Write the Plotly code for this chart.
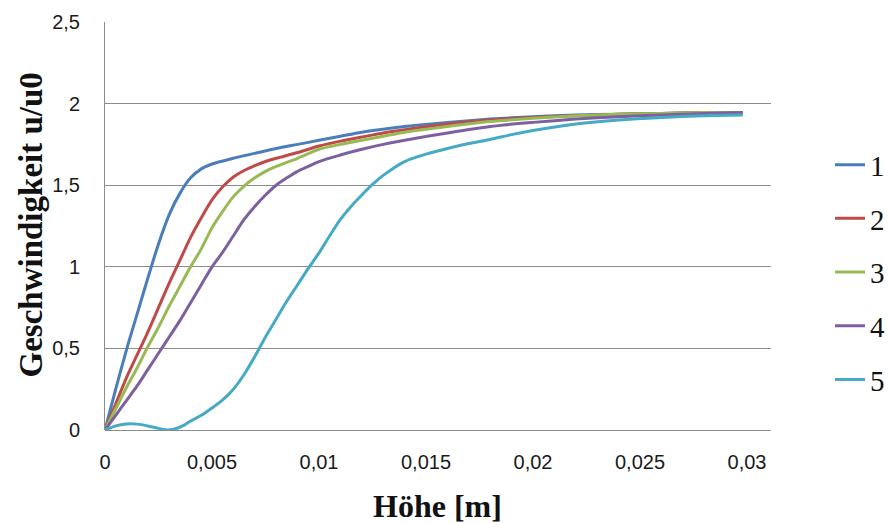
import plotly.graph_objects as go

# ---- data ----
series_names = ["1", "2", "3", "4", "5"]

x1 = [0, 0.0005, 0.001, 0.0015, 0.002, 0.0025, 0.003, 0.0035, 0.004, 0.0045, 0.005, 0.006, 0.007,
      0.008, 0.009, 0.01, 0.011, 0.012, 0.014, 0.016, 0.018, 0.02, 0.022, 0.024, 0.026, 0.028, 0.0298]
y1 = [0, 0.25, 0.49, 0.71, 0.93, 1.14, 1.32, 1.45, 1.545, 1.60, 1.63, 1.665, 1.695,
      1.725, 1.75, 1.775, 1.80, 1.825, 1.86, 1.885, 1.905, 1.92, 1.93, 1.935, 1.94, 1.945, 1.945]

x2 = [0, 0.0005, 0.001, 0.0015, 0.002, 0.0025, 0.003, 0.0035, 0.004, 0.0045, 0.005, 0.0055, 0.006,
      0.0065, 0.007, 0.0075, 0.008, 0.009, 0.01, 0.011, 0.012, 0.013, 0.014, 0.016, 0.018, 0.02,
      0.022, 0.024, 0.026, 0.028, 0.0298]
y2 = [0, 0.16, 0.32, 0.46, 0.60, 0.75, 0.90, 1.04, 1.18, 1.30, 1.41, 1.49, 1.55,
      1.59, 1.62, 1.645, 1.665, 1.70, 1.74, 1.77, 1.795, 1.82, 1.84, 1.875, 1.90, 1.915,
      1.925, 1.935, 1.94, 1.945, 1.945]

x3 = [0, 0.0005, 0.001, 0.0015, 0.002, 0.0025, 0.003, 0.0035, 0.004, 0.0045, 0.005, 0.0055, 0.006,
      0.0065, 0.007, 0.0075, 0.008, 0.009, 0.01, 0.011, 0.012, 0.013, 0.014, 0.016, 0.018, 0.02,
      0.022, 0.024, 0.026, 0.028, 0.0298]
y3 = [0, 0.13, 0.26, 0.38, 0.51, 0.63, 0.76, 0.88, 1.0, 1.11, 1.24, 1.34, 1.43,
      1.495, 1.545, 1.585, 1.615, 1.665, 1.72, 1.75, 1.775, 1.80, 1.825, 1.86, 1.89, 1.91,
      1.925, 1.935, 1.94, 1.945, 1.945]

x4 = [0, 0.0005, 0.001, 0.0015, 0.002, 0.0025, 0.003, 0.0035, 0.004, 0.0045, 0.005, 0.0055, 0.006,
      0.0065, 0.007, 0.0075, 0.008, 0.0085, 0.009, 0.0095, 0.01, 0.011, 0.012, 0.013, 0.014,
      0.016, 0.018, 0.02, 0.022, 0.024, 0.026, 0.028, 0.0298]
y4 = [0, 0.09, 0.18, 0.27, 0.37, 0.47, 0.57, 0.67, 0.78, 0.89, 1.0, 1.09, 1.19,
      1.29, 1.37, 1.44, 1.50, 1.545, 1.585, 1.615, 1.645, 1.685, 1.72, 1.75, 1.775,
      1.82, 1.86, 1.885, 1.905, 1.92, 1.93, 1.94, 1.945]

x5 = [0, 0.0005, 0.001, 0.0015, 0.002, 0.0025, 0.0029, 0.0033, 0.0037, 0.004, 0.0045, 0.005, 0.0055,
      0.006, 0.0065, 0.007, 0.0075, 0.008, 0.0085, 0.009, 0.0095, 0.01, 0.0105, 0.011, 0.0115,
      0.012, 0.0125, 0.013, 0.014, 0.015, 0.016, 0.017, 0.018, 0.019, 0.02, 0.022, 0.024, 0.026,
      0.028, 0.0298]
y5 = [0, 0.025, 0.037, 0.036, 0.025, 0.01, 0.0, 0.008, 0.03, 0.055, 0.09, 0.135, 0.185,
      0.25, 0.34, 0.45, 0.57, 0.68, 0.79, 0.89, 0.99, 1.085, 1.19, 1.29, 1.37,
      1.44, 1.505, 1.56, 1.645, 1.69, 1.725, 1.755, 1.78, 1.81, 1.835, 1.875, 1.90, 1.915,
      1.925, 1.93]

xs = [x1, x2, x3, x4, x5]
ys = [y1, y2, y3, y4, y5]
colors = ["#4A7EBB", "#BE4B48", "#98B954", "#7D60A0", "#46AAC5"]

x_tickvals = [0, 0.005, 0.01, 0.015, 0.02, 0.025, 0.03]
x_ticktext = ["0", "0,005", "0,01", "0,015", "0,02", "0,025", "0,03"]
y_tickvals = [0, 0.5, 1, 1.5, 2, 2.5]
y_ticktext = ["0", "0,5", "1", "1,5", "2", "2,5"]

x_title = "Höhe [m]"
y_title = "Geschwindigkeit u/u0"

# ---- figure ----
fig = go.Figure()
for name, x, y, c in zip(series_names, xs, ys, colors):
    fig.add_trace(go.Scatter(x=x, y=y, name=name, mode="lines", legendgroup=name,
                             line=dict(color=c, width=3, shape="spline", smoothing=0.8)))

grid = "#8C8C8C"
tickfont = dict(family="Liberation Sans", size=20, color="#1a1a1a")

fig.update_layout(
    width=890, height=523,
    margin=dict(l=105, r=119, t=22, b=93, autoexpand=False),
    paper_bgcolor="white", plot_bgcolor="white",
    showlegend=True,
    legend=dict(x=1.0886, xanchor="left", y=0.7125, yanchor="top",
                font=dict(family="Liberation Serif", size=29, color="#111"),
                tracegroupgap=13, bgcolor="rgba(0,0,0,0)"),
    xaxis=dict(range=[0, 0.031121], tickvals=x_tickvals, ticktext=x_ticktext,
               showgrid=False, zeroline=False, showline=False, ticks="",
               tickfont=tickfont, ticklabelstandoff=18),
    yaxis=dict(range=[0, 2.5], tickvals=y_tickvals, ticktext=y_ticktext,
               showgrid=True, gridcolor=grid, gridwidth=1,
               zeroline=True, zerolinecolor=grid, zerolinewidth=1,
               showline=True, linecolor=grid, linewidth=1, ticks="",
               tickfont=tickfont, ticklabelstandoff=20),
    annotations=[
        dict(text=f"<b>{x_title}</b>", xref="paper", yref="paper", showarrow=False,
             font=dict(family="Liberation Serif", size=32, color="#111")),
        dict(text=f"<b>{y_title}</b>", textangle=-90, xref="paper", yref="paper",
             showarrow=False,
             font=dict(family="Liberation Serif", size=33, color="#111")),
    ],
)

pw, ph = 890 - 105 - 119, 523 - 22 - 93
fig.layout.annotations[0].update(x=(437.5 - 105) / pw, y=(430 - 506) / ph,
                                 xanchor="center", yanchor="middle")
fig.layout.annotations[1].update(x=(30 - 105) / pw, y=(430 - 225.5) / ph,
                                 xanchor="center", yanchor="middle")

fig.write_html("out.html")
